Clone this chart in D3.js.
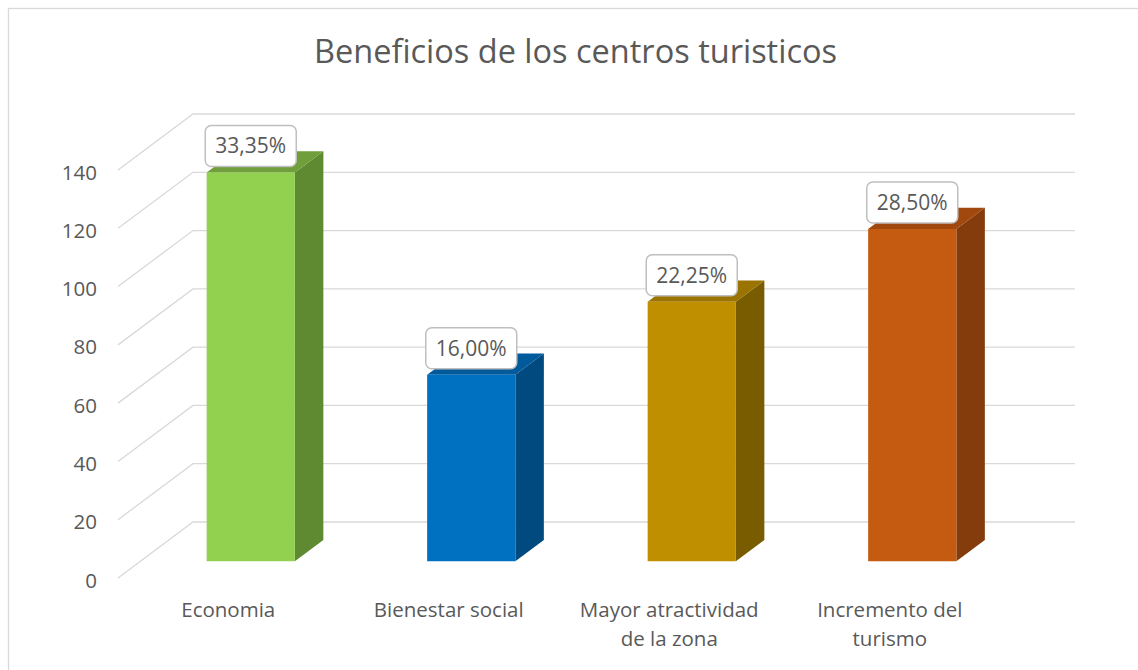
<!DOCTYPE html>
<html lang="es">
<head>
  <meta charset="UTF-8">
  <title>Beneficios de los centros turisticos</title>
  <script src="https://cdn.jsdelivr.net/npm/d3@7"></script>
  <style>
    html, body { margin: 0; padding: 0; background: #fff; overflow: hidden; }
    svg { display: block; }
    text { font-family: "Open Sans", "DejaVu Sans", sans-serif; fill: #595959; }
  </style>
</head>
<body>
  <script>
    // ------------- Data -------------
    const categories = ["Economia", "Bienestar social", "Mayor atractividad de la zona", "Incremento del turismo"];
    const values = [133.4, 64, 89, 114];
    const valueLabels = ["33,35%", "16,00%", "22,25%", "28,50%"];
    const yTicks = [0, 20, 40, 60, 80, 100, 120, 140];
    const frontColors = ["#92d050", "#0070c0", "#bf8f00", "#c55a11"];
    const sideColors  = ["#5f8a32", "#004a80", "#7a5c00", "#843c0c"];
    const topColors   = ["#6f9e3b", "#005a9c", "#9a7300", "#a0480e"];

    // ------------- Layout -------------
    const width = 1138, height = 670;
    const DX = 75, DY = -56;          // depth offset of the back wall
    const d0 = 0.30, d1 = 0.68;       // bar front / back depth fractions

    const svg = d3.select("body").append("svg")
      .attr("width", width)
      .attr("height", height);

    // chart border
    svg.append("rect")
      .attr("x", 8.5).attr("y", 8.5)
      .attr("width", 1200).attr("height", 700)
      .attr("fill", "#fff")
      .attr("stroke", "#d9d9d9")
      .attr("stroke-width", 1.3);

    const x = d3.scaleBand().domain(categories).range([118, 1000]);
    const y = d3.scaleLinear().domain([0, 140]).range([578, 170]);

    // project a point (front x, value, depth) to screen
    const P = (px, v, d) => [px + d * DX, y(v) + d * DY];

    // ------------- Title -------------
    svg.append("text")
      .attr("x", 575.5).attr("y", 62.5)
      .attr("text-anchor", "middle")
      .style("font-size", "32.5px")
      .text("Beneficios de los centros turisticos");

    // ------------- Gridlines (side wall + back wall) -------------
    svg.append("g")
      .selectAll("polyline")
      .data(yTicks)
      .join("polyline")
        .attr("points", t => [P(118, t, 0), P(118, t, 1), P(1000, t, 1)].map(p => p.join(",")).join(" "))
        .attr("fill", "none")
        .attr("stroke", "#d9d9d9")
        .attr("stroke-width", 1.3);

    // y tick labels
    svg.append("g")
      .selectAll("text")
      .data(yTicks)
      .join("text")
        .attr("x", 97)
        .attr("y", t => y(t) + 9.5)
        .attr("text-anchor", "end")
        .style("font-size", "20.5px")
        .text(t => t);

    // ------------- Bars -------------
    const bars = svg.append("g")
      .selectAll("g")
      .data(categories)
      .join("g");

    const poly = pts => pts.map(p => p.join(",")).join(" ");
    const bw = x.bandwidth() * 0.4;

    bars.each(function(c, i) {
      const g = d3.select(this);
      const xc = x(c) + x.bandwidth() / 2;
      const x0 = xc - bw / 2, x1 = xc + bw / 2;
      const v = values[i];
      g.append("polygon")
        .attr("points", poly([P(x1, 0, d0), P(x1, 0, d1), P(x1, v, d1), P(x1, v, d0)]))
        .attr("fill", sideColors[i]);
      g.append("polygon")
        .attr("points", poly([P(x0, v, d0), P(x1, v, d0), P(x1, v, d1), P(x0, v, d1)]))
        .attr("fill", topColors[i]);
      g.append("polygon")
        .attr("points", poly([P(x0, 0, d0), P(x1, 0, d0), P(x1, v, d0), P(x0, v, d0)]))
        .attr("fill", frontColors[i]);

      // data label box
      const [lx, ly] = P(xc, v, d0);
      const bwLab = 91, bhLab = 41;
      const top = ly - 6 - bhLab;
      g.append("rect")
        .attr("x", lx - bwLab / 2).attr("y", top)
        .attr("width", bwLab).attr("height", bhLab)
        .attr("rx", 6)
        .attr("fill", "#fff")
        .attr("stroke", "#bfbfbf")
        .attr("stroke-width", 1.5);
      g.append("text")
        .attr("x", lx).attr("y", top + bhLab / 2 + 7.5)
        .attr("text-anchor", "middle")
        .style("font-size", "21px")
        .text(valueLabels[i]);
    });

    // ------------- Category labels (wrapped) -------------
    const catText = svg.append("g")
      .selectAll("text")
      .data(categories)
      .join("text")
        .attr("text-anchor", "middle")
        .style("font-size", "20.5px")
        .attr("transform", c => `translate(${x(c) + x.bandwidth() / 2},617)`);

    catText.each(function(c) {
      const el = d3.select(this);
      const words = c.split(" ");
      let line = [], lineNo = 0;
      let tspan = el.append("tspan").attr("x", 0).attr("dy", 0);
      for (const w of words) {
        line.push(w);
        tspan.text(line.join(" "));
        if (tspan.node().getComputedTextLength() > 200 && line.length > 1) {
          line.pop();
          tspan.text(line.join(" "));
          line = [w];
          lineNo++;
          tspan = el.append("tspan").attr("x", 0).attr("dy", 29).text(w);
        }
      }
    });
  </script>
</body>
</html>
